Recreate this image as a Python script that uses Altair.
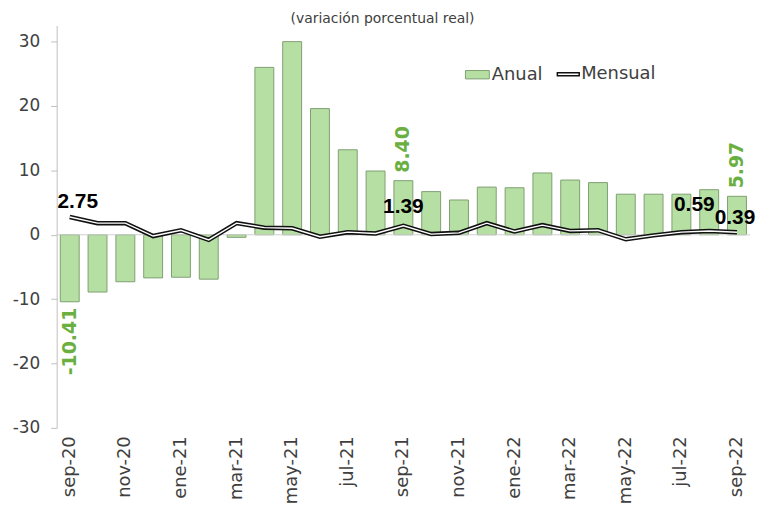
import altair as alt
import pandas as pd

meses = ["sep-20", "oct-20", "nov-20", "dic-20", "ene-21", "feb-21", "mar-21",
         "abr-21", "may-21", "jun-21", "jul-21", "ago-21", "sep-21", "oct-21",
         "nov-21", "dic-21", "ene-22", "feb-22", "mar-22", "abr-22", "may-22",
         "jun-22", "jul-22", "ago-22", "sep-22"]
anual = [-10.41, -8.9, -7.3, -6.7, -6.6, -6.9, -0.4, 26.0, 30.0, 19.6, 13.2, 9.9,
         8.40, 6.7, 5.4, 7.4, 7.3, 9.6, 8.5, 8.1, 6.3, 6.3, 6.3, 7.0, 5.97]
mensual = [2.75, 1.8, 1.8, -0.2, 0.7, -0.8, 1.8, 1.1, 1.0, -0.3, 0.4, 0.2,
           1.39, 0.1, 0.3, 1.8, 0.5, 1.5, 0.6, 0.7, -0.7, -0.1, 0.4, 0.59, 0.39]
etiquetas_eje = meses[::2]
y_ticks = [-30, -20, -10, 0, 10, 20, 30]

# labels shown on the chart
lab_anual_neg = ["sep-20"]
lab_anual_pos = ["sep-21", "sep-22"]

df = pd.DataFrame({"mes": meses, "anual": anual, "mensual": mensual})
df["serie_a"] = "Anual"
df["serie_m"] = "Mensual"
df["txt_anual"] = [f"{v:.2f}" for v in anual]
df["txt_mensual"] = [f"{v:.2f}" for v in mensual]

FONT = "DejaVu Sans"
GRAY = "#404040"
GREEN_TXT = "#6aaf3f"

xaxis = alt.Axis(values=etiquetas_eje, labelAngle=270, title=None,
                 domain=False, ticks=False, tickSize=0, labelPadding=8,
                 labelFont=FONT, labelFontSize=18, labelColor=GRAY)
xscale = alt.Scale(paddingInner=0.32, paddingOuter=0.13)
yscale = alt.Scale(domain=[-30, 32.5], nice=False, zero=False)
yaxis = alt.Axis(values=y_ticks, title=None, grid=False,
                 domainColor="#bfbfbf", tickColor="#bfbfbf", tickSize=6,
                 labelPadding=11, labelFont=FONT, labelFontSize=17,
                 labelColor=GRAY,
                 labelExpr="datum.value < 0 ? '-' + abs(datum.value) : '' + datum.value")


def X():
    return alt.X("mes:N", sort=meses, scale=xscale, axis=xaxis)


def Y(field):
    return alt.Y(field, scale=yscale, axis=yaxis)


base = alt.Chart(df)

bars = base.mark_bar(stroke="#7f9f72", strokeWidth=1).encode(
    x=X(),
    y=Y("anual:Q"),
    fill=alt.Fill("serie_a:N",
                  scale=alt.Scale(domain=["Anual"], range=["#b6e0a3"]),
                  legend=alt.Legend(title=None, orient="none", legendX=411, legendY=37,
                                    symbolType="M-1,-0.35H1V0.35H-1Z", symbolSize=576,
                                    symbolStrokeColor="#7f9f72", symbolStrokeWidth=1,
                                    labelFont=FONT, labelFontSize=18, labelColor=GRAY,
                                    labelOffset=2)),
)

cero = alt.Chart(pd.DataFrame({"cero": [0]})).mark_rule(color="#d0d0d0", strokeWidth=1).encode(
    y=Y("cero:Q"))

line_outer = base.mark_line(strokeWidth=4.5).encode(
    x=X(),
    y=Y("mensual:Q"),
    stroke=alt.Stroke("serie_m:N",
                      scale=alt.Scale(domain=["Mensual"], range=["#111111"]),
                      legend=alt.Legend(title=None, orient="none", legendX=503, legendY=37,
                                        symbolType="M-1,-0.13H1V0.13H-1Z", symbolSize=484,
                                        symbolFillColor="white", symbolStrokeWidth=1.5,
                                        labelFont=FONT, labelFontSize=18, labelColor=GRAY,
                                        labelOffset=1)),
)
line_inner = base.mark_line(strokeWidth=1.4, color="white").encode(
    x=X(),
    y=Y("mensual:Q"),
)


def green_label(meses_sel, align, dx):
    return base.transform_filter(
        alt.FieldOneOfPredicate(field="mes", oneOf=meses_sel)
    ).mark_text(angle=270, align=align, baseline="middle", dx=dx,
                font=FONT, fontWeight="bold", fontSize=19, color=GREEN_TXT).encode(
        x=X(),
        y=Y("anual:Q"),
        text="txt_anual:N")


def black_label(mes, dx, dy):
    return base.transform_filter(alt.datum.mes == mes).mark_text(
        align="center", baseline="bottom", dx=dx, dy=dy,
        font="Liberation Sans", fontWeight="bold", fontSize=21, color="black").encode(
        x=X(),
        y=Y("mensual:Q"),
        text="txt_mensual:N")


chart = alt.layer(
    bars, cero, line_outer, line_inner,
    green_label(lab_anual_neg, "right", -6),
    green_label(lab_anual_pos, "left", 8),
    black_label("sep-20", 8, -5),
    black_label("sep-21", 0, -9),
    black_label("ago-22", -15, -16),
    black_label("sep-22", -2, -4),
).properties(
    width=698, height=405,
    title=alt.Title("(variación porcentual real)", font=FONT, fontSize=14,
                    fontWeight="normal", color=GRAY, anchor="middle", dx=-21, offset=0),
    padding={"top": 16, "left": 49, "right": 10, "bottom": 78},
    autosize=alt.AutoSizeParams(type="none"),
).configure_view(stroke=None)

chart.save("out.html", embed_options={"renderer": "svg", "actions": False})
